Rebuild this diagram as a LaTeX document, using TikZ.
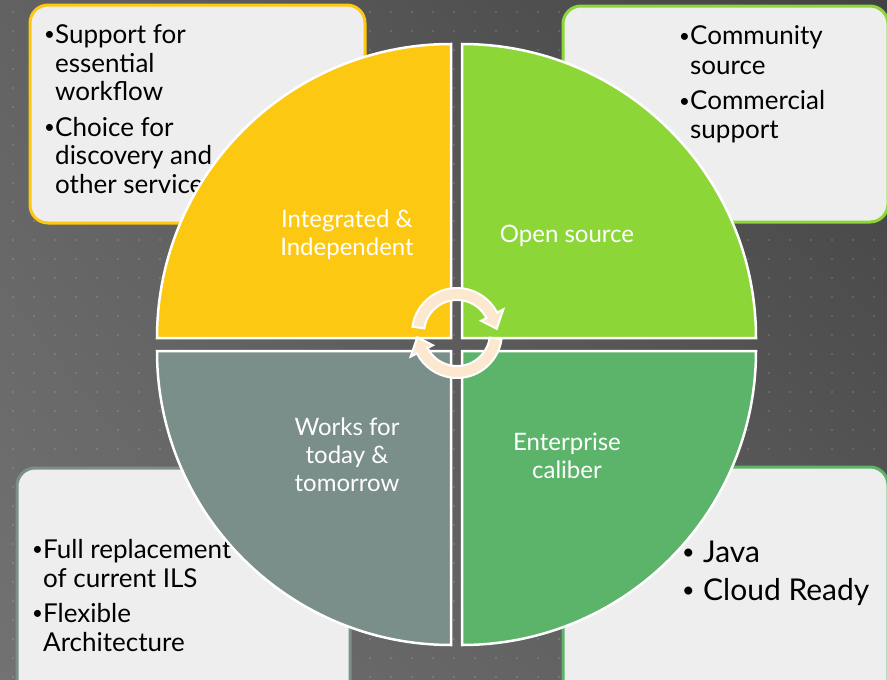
\documentclass[tikz,border=0pt]{standalone}
\usepackage{fontspec}
\setmainfont{Lato}
\usetikzlibrary{shadings}
\definecolor{qyellow}{HTML}{FCC812}
\definecolor{qlime}{HTML}{8CD638}
\definecolor{qteal}{HTML}{7B8F8A}
\definecolor{qgreen}{HTML}{5BB46A}
\definecolor{boxgray}{HTML}{EEEEEE}
\definecolor{arrowpeach}{HTML}{FCE8CF}
\definecolor{bgUL}{HTML}{626262}
\definecolor{bgUR}{HTML}{424242}
\definecolor{bgLL}{HTML}{727272}
\definecolor{bgLR}{HTML}{5A5A5A}
\newcommand\bul[1]{\makebox[#1][l]{\raisebox{0.1em}{\scalebox{0.72}{•}}}}
\tikzset{
  quad/.style={draw=white, line width=2.5pt},
  infobox/.style={line width=3pt, rounded corners=18pt, fill=boxgray},
  cycarrow/.style={fill=arrowpeach, draw=white, line width=2pt},
  griddots/.style={white, opacity=0.12, line width=2pt, dash pattern=on 2pt off 19pt, dash phase=-12pt},
  qlabel/.style={text=white, inner sep=0pt, anchor=base, font=\fontsize{24}{28}\selectfont},
  bullets/.style={text=black, inner sep=0pt, anchor=base west, font=\fontsize{26}{29}\selectfont},
}
\begin{document}
\begin{tikzpicture}[x=1pt, y=-1pt]
	\useasboundingbox (0,0) rectangle (887,680);
	\clip (0,0) rectangle (887,680);
	% background
	\shade [upper left=bgUL, upper right=bgUR, lower left=bgLL, lower right=bgLR] (0,0) rectangle (887,680);
	\foreach \gy in {12,31,...,680}
		\draw [griddots] (0,\gy) -- (887,\gy);
	% side boxes
	\draw [infobox, draw=qyellow] (30,5) rectangle (365,223);
	\draw [infobox, draw=qlime] (563,6) rectangle (888,222);
	\draw [infobox, draw=qteal] (17,468) rectangle (350,710);
	\draw [infobox, draw=qgreen] (563,467) rectangle (888,710);
	\node [bullets] (essential) at (44,43) {\begin{tabular}[t]{@{}l@{}l@{}}
		\bul{11pt}&Support for\\ &essential\\ &workflow\\[6pt]
		\bul{11pt}&Choice for\\ &discovery and\\ &other services
		\end{tabular}};
	\node [bullets] (community) at (679,45) {\begin{tabular}[t]{@{}l@{}l@{}}
		\bul{11pt}&Community\\ &source\\[7pt]
		\bul{11pt}&Commercial\\ &support
		\end{tabular}};
	\node [bullets] (replacement) at (32,558) {\begin{tabular}[t]{@{}l@{}l@{}}
		\bul{11pt}&Full replacement\\ &of current ILS\\[6pt]
		\bul{11pt}&Flexible\\ &Architecture
		\end{tabular}};
	\node [bullets, font=\fontsize{30}{38}\selectfont] (java) at (682,562) {\begin{tabular}[t]{@{}l@{}l@{}}
		\bul{21pt}&Java\\
		\bul{21pt}&Cloud Ready
		\end{tabular}};
	% quarter circles
	\draw [quad, fill=qyellow] (451,338) -- ++(180:294) arc[start angle=180, end angle=270, radius=294] -- cycle;
	\draw [quad, fill=qlime] (462,338) -- ++(270:294) arc[start angle=270, end angle=360, radius=294] -- cycle;
	\draw [quad, fill=qgreen] (462,351) -- ++(0:294) arc[start angle=0, end angle=90, radius=294] -- cycle;
	\draw [quad, fill=qteal] (451,351) -- ++(90:294) arc[start angle=90, end angle=180, radius=294] -- cycle;
	\node [qlabel] (integrated) at (347,227) {\begin{tabular}[t]{@{}c@{}}Integrated \&\\ Independent\end{tabular}};
	\node [qlabel] (opensource) at (567,242) {Open source};
	\node [qlabel] (works) at (347,435) {\begin{tabular}[t]{@{}c@{}}Works for\\ today \&\\ tomorrow\end{tabular}};
	\node [qlabel] (enterprise) at (567,450) {\begin{tabular}[t]{@{}c@{}}Enterprise\\ caliber\end{tabular}};
	% circular arrows
	\coordinate (topc) at (457,333);
	\coordinate (mid) at (457,344.5);
	\filldraw [cycarrow] ([shift={(188:45)}]topc) arc[start angle=188, end angle=333, radius=45]
		-- ([shift={(333:52)}]topc) -- ([shift={(354:40)}]topc) -- ([shift={(333:27)}]topc)
		-- ([shift={(333:33)}]topc) arc[start angle=333, end angle=188, radius=33] -- cycle;
	\begin{scope}[rotate around={180:(mid)}]
	\filldraw [cycarrow] ([shift={(188:45)}]topc) arc[start angle=188, end angle=333, radius=45]
		-- ([shift={(333:52)}]topc) -- ([shift={(354:40)}]topc) -- ([shift={(333:27)}]topc)
		-- ([shift={(333:33)}]topc) arc[start angle=333, end angle=188, radius=33] -- cycle;
	\end{scope}
\end{tikzpicture}
\end{document}
